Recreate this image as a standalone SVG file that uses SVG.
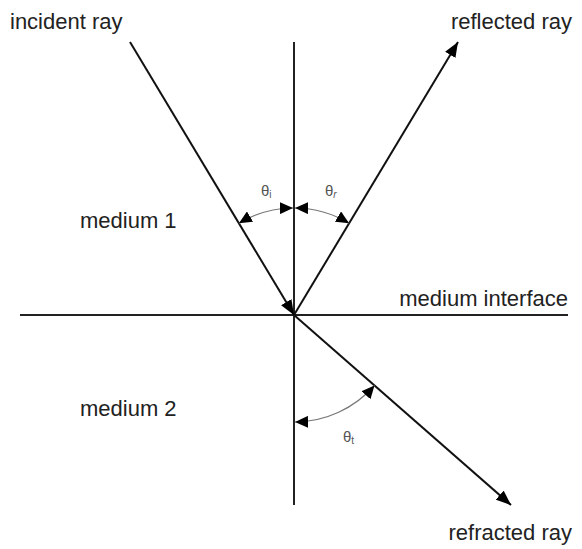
<svg xmlns="http://www.w3.org/2000/svg" width="582" height="549" viewBox="0 0 582 549">
<style>
.lbl{font-family:"Liberation Sans",Arial,sans-serif;font-size:22px;fill:#222}
.th{font-family:"Liberation Sans",Arial,sans-serif;font-size:15px;fill:#555}
.sub{font-size:10px}
.axis{stroke:#222;stroke-width:2;fill:none}
.ray{stroke:#111;stroke-width:2;fill:none}
.arc{stroke:#777;stroke-width:1.2;fill:none}
</style>
<defs>
<marker id="big" markerUnits="userSpaceOnUse" markerWidth="16" markerHeight="12" refX="15" refY="6" orient="auto">
<path d="M0,0 L15,6 L0,12 z" fill="#000"/>
</marker>
<marker id="small" markerUnits="userSpaceOnUse" markerWidth="14" markerHeight="12" refX="13" refY="6" orient="auto-start-reverse">
<path d="M0,0 L13,6 L0,12 z" fill="#000"/>
</marker>
</defs>
<rect width="582" height="549" fill="#fff"/>
<g id="connectors">
<line id="normal" class="axis" x1="294" y1="42" x2="294" y2="505"/>
<line id="interface" class="axis" x1="20" y1="315" x2="568" y2="315"/>
<line id="incident" class="ray" x1="130" y1="42" x2="294" y2="315" marker-end="url(#big)"/>
<line id="reflected" class="ray" x1="294" y1="315" x2="458" y2="42" marker-end="url(#big)"/>
<line id="refracted" class="ray" x1="294" y1="315" x2="511" y2="505" marker-end="url(#big)"/>
<path id="arc-i" class="arc" d="M238.9,223.3 A107,107 0 0 1 293,208" marker-start="url(#small)" marker-end="url(#small)"/>
<path id="arc-r" class="arc" d="M295,208 A107,107 0 0 1 349.1,223.3" marker-start="url(#small)" marker-end="url(#small)"/>
<path id="arc-t" class="arc" d="M295,422 A107,107 0 0 0 374.5,385.5" marker-start="url(#small)" marker-end="url(#small)"/>
</g>
<g id="labels">
<text class="lbl" x="10" y="29">incident ray</text>
<text class="lbl" x="572" y="29" text-anchor="end">reflected ray</text>
<text class="lbl" x="80" y="228">medium 1</text>
<text class="lbl" x="568" y="306" text-anchor="end">medium interface</text>
<text class="lbl" x="80" y="416">medium 2</text>
<text class="lbl" x="572" y="540" text-anchor="end">refracted ray</text>
<text class="th" x="261" y="196">θ<tspan class="sub" dy="2">i</tspan></text>
<text class="th" x="325" y="196">θ<tspan class="sub" dy="2" font-style="italic">r</tspan></text>
<text class="th" x="343" y="442">θ<tspan class="sub" dy="2">t</tspan></text>
</g>
</svg>
